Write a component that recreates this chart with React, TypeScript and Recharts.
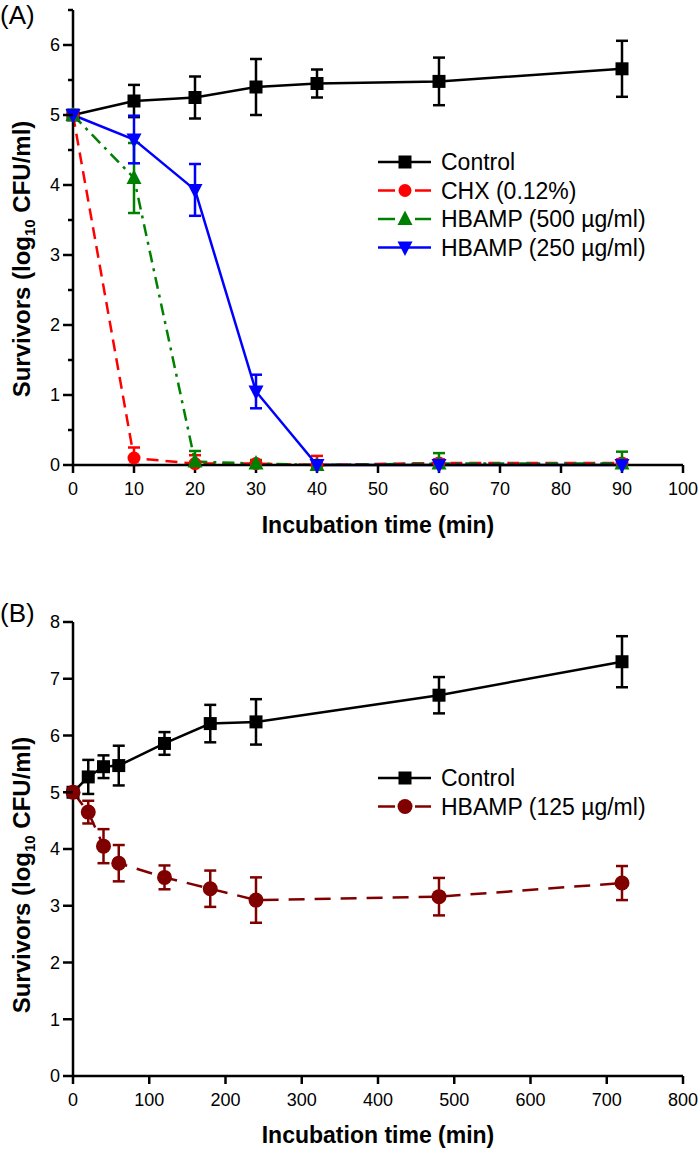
import React from "react";
import { LineChart, Line, XAxis, YAxis, ErrorBar, Legend } from "recharts";

const FONT = '"Liberation Sans", Arial, Helvetica, sans-serif';

// panel A: short time course (min)
const timesA = [0, 10, 20, 30, 40, 60, 90];
const controlA = [5.0, 5.2, 5.25, 5.4, 5.45, 5.48, 5.66];
const controlAErr = [0, 0.23, 0.3, 0.4, 0.2, 0.34, 0.4];
const chxA = [5.0, 0.1, 0.02, 0.02, 0.0, 0.03, 0.03];
const chxAErr = [0, 0.15, 0.12, 0.05, 0.13, 0.05, 0.05];
const hb500A = [5.0, 4.1, 0.05, 0.02, 0.0, 0.02, 0.02];
const hb500AErr = [0, 0.5, 0.15, 0.05, 0, 0.15, 0.17];
const hb250A = [5.0, 4.65, 3.93, 1.05, 0.0, 0.0, 0.0];
const hb250AErr = [0, 0.34, 0.37, 0.24, 0, 0, 0];
const xTicksA = [0, 10, 20, 30, 40, 50, 60, 70, 80, 90, 100];
const yTicksA = [0, 0.5, 1, 1.5, 2, 2.5, 3, 3.5, 4, 4.5, 5, 5.5, 6, 6.5];

// panel B: long time course (min)
const timesB = [0, 20, 40, 60, 120, 180, 240, 480, 720];
const controlB = [5.0, 5.27, 5.45, 5.47, 5.86, 6.21, 6.24, 6.71, 7.3];
const controlBErr = [0, 0.3, 0.2, 0.35, 0.2, 0.33, 0.4, 0.32, 0.45];
const hb125B = [5.0, 4.65, 4.05, 3.75, 3.5, 3.3, 3.1, 3.16, 3.4];
const hb125BErr = [0, 0.2, 0.3, 0.32, 0.21, 0.32, 0.4, 0.33, 0.3];
const xTicksB = [0, 100, 200, 300, 400, 500, 600, 700, 800];
const yTicksB = [0, 1, 2, 3, 4, 5, 6, 7, 8];

const seriesA = [
  { key: "control", name: "Control", color: "#000000", shape: "square", dash: undefined },
  { key: "chx", name: "CHX (0.12%)", color: "#ff0000", shape: "circle", dash: "12 7" },
  { key: "hb500", name: "HBAMP (500 µg/ml)", color: "#008000", shape: "up", dash: "12 6 3 6" },
  { key: "hb250", name: "HBAMP (250 µg/ml)", color: "#0000ff", shape: "down", dash: undefined },
];
const seriesB = [
  { key: "control", name: "Control", color: "#000000", shape: "square", dash: undefined },
  { key: "hb125", name: "HBAMP (125 µg/ml)", color: "#800000", shape: "bigcircle", dash: "16 10" },
];

const AXIS_X = 73; // left edge of both plots

// error bars never go below zero on the plot
const errPair = (v: number, e: number) => (e ? [Math.min(v, e), e] : 0);

const rowsA = timesA.map((t, i) => ({
  t,
  control: controlA[i],
  controlErr: errPair(controlA[i], controlAErr[i]),
  chx: chxA[i],
  chxErr: errPair(chxA[i], chxAErr[i]),
  hb500: hb500A[i],
  hb500Err: errPair(hb500A[i], hb500AErr[i]),
  hb250: hb250A[i],
  hb250Err: errPair(hb250A[i], hb250AErr[i]),
}));

const rowsB = timesB.map((t, i) => ({
  t,
  control: controlB[i],
  controlErr: errPair(controlB[i], controlBErr[i]),
  hb125: hb125B[i],
  hb125Err: errPair(hb125B[i], hb125BErr[i]),
}));

function marker(shape: string, cx: number, cy: number, color: string, key?: any) {
  if (shape === "square")
    return <rect key={key} x={cx - 6.5} y={cy - 6.5} width={13} height={13} fill={color} />;
  if (shape === "circle") return <circle key={key} cx={cx} cy={cy} r={6.5} fill={color} />;
  if (shape === "bigcircle") return <circle key={key} cx={cx} cy={cy} r={7.5} fill={color} />;
  if (shape === "up")
    return (
      <polygon key={key} points={`${cx},${cy - 8.5} ${cx - 7.5},${cy + 6} ${cx + 7.5},${cy + 6}`} fill={color} />
    );
  return (
    <polygon key={key} points={`${cx},${cy + 8.5} ${cx - 7.5},${cy - 6} ${cx + 7.5},${cy - 6}`} fill={color} />
  );
}

const dotFor = (shape: string, color: string) => (props: any) => {
  const { cx, cy, index } = props;
  if (cx == null || cy == null) return <g key={`d-${index}`} />;
  return marker(shape, cx, cy, color, `d-${index}`);
};

// y ticks: long ones with a label on whole numbers, short ones on halves
const YTick = (props: any) => {
  const { y, payload } = props;
  const major = Number.isInteger(payload.value);
  return (
    <g>
      <line x1={AXIS_X - (major ? 10 : 5)} x2={AXIS_X} y1={y} y2={y} stroke="#000" strokeWidth={2.5} />
      {major && (
        <text x={AXIS_X - 13} y={y} dy="0.36em" textAnchor="end" fontSize={18} fill="#000" fontFamily={FONT}>
          {payload.value}
        </text>
      )}
    </g>
  );
};

const XTitle = ({ baseY }: { baseY: number }) => (
  <text x={378} y={baseY} textAnchor="middle" fontSize={23} fontWeight="bold" fill="#000" fontFamily={FONT}>
    Incubation time (min)
  </text>
);

const YTitle = ({ midY, panel, panelY }: { midY: number; panel: string; panelY: number }) => (
  <g>
    <text
      x={30}
      y={midY}
      transform={`rotate(-90, 30, ${midY})`}
      textAnchor="middle"
      fontSize={24}
      fontWeight="bold"
      fill="#000"
      fontFamily={FONT}
    >
      Survivors (log
      <tspan fontSize={15} dy={5}>
        10
      </tspan>
      <tspan dy={-5}> CFU/ml)</tspan>
    </text>
    <text x={0} y={panelY} fontSize={26} fill="#000" fontFamily={FONT}>
      {panel}
    </text>
  </g>
);

const LegendBox = ({ items }: { items: typeof seriesA }) => (
  <svg width={320} height={items.length * 29 + 6} style={{ overflow: "visible" }}>
    {items.map((s, i) => {
      const cy = 14 + i * 28.5;
      return (
        <g key={s.key}>
          {s.dash ? (
            <>
              <line x1={0} x2={17} y1={cy} y2={cy} stroke={s.color} strokeWidth={2.5} />
              <line x1={37} x2={53} y1={cy} y2={cy} stroke={s.color} strokeWidth={2.5} />
            </>
          ) : (
            <line x1={0} x2={53} y1={cy} y2={cy} stroke={s.color} strokeWidth={2.5} />
          )}
          {marker(s.shape, 27, cy, s.color)}
          <text x={63} y={cy} dy="0.35em" fontSize={23} fill="#000" fontFamily={FONT}>
            {s.name}
          </text>
        </g>
      );
    })}
  </svg>
);

const axisStyle = { stroke: "#000", strokeWidth: 2.5 };

export default function App() {
  return (
    <div style={{ position: "absolute", left: 0, top: 0, width: 700, height: 1149, background: "#fff" }}>
      <div style={{ position: "absolute", left: 0, top: 0 }}>
        <LineChart
          width={700}
          height={560}
          data={rowsA}
          margin={{ top: 10, right: 17, bottom: 35, left: 0 }}
          style={{ fontFamily: FONT }}
        >
          <XAxis
            dataKey="t"
            type="number"
            domain={[0, 100]}
            ticks={xTicksA}
            height={60}
            tickSize={8}
            tickMargin={9}
            axisLine={axisStyle}
            tickLine={axisStyle}
            tick={{ fontSize: 18, fill: "#000", fontFamily: FONT }}
            label={<XTitle baseY={533} />}
          />
          <YAxis
            type="number"
            domain={[0, 6.5]}
            ticks={yTicksA}
            interval={0}
            width={AXIS_X}
            axisLine={axisStyle}
            tickLine={false}
            tick={<YTick />}
            label={<YTitle midY={259} panel="(A)" panelY={24} />}
          />
          {seriesA.map((s) => (
            <Line
              key={s.key}
              type="linear"
              dataKey={s.key}
              name={s.name}
              stroke={s.color}
              strokeWidth={2.5}
              strokeDasharray={s.dash}
              dot={dotFor(s.shape, s.color)}
              activeDot={false}
              isAnimationActive={false}
            >
              <ErrorBar dataKey={`${s.key}Err`} width={6} stroke={s.color} strokeWidth={2.5} direction="y" />
            </Line>
          ))}
          <Legend
            layout="vertical"
            align="center"
            verticalAlign="middle"
            wrapperStyle={{ left: 378, top: 148, width: 320 }}
            content={() => <LegendBox items={seriesA} />}
          />
        </LineChart>
      </div>
      <div style={{ position: "absolute", left: 0, top: 560 }}>
        <LineChart
          width={700}
          height={589}
          data={rowsB}
          margin={{ top: 62, right: 17, bottom: 23, left: 0 }}
          style={{ fontFamily: FONT }}
        >
          <XAxis
            dataKey="t"
            type="number"
            domain={[0, 800]}
            ticks={xTicksB}
            height={50}
            tickSize={8}
            tickMargin={9}
            axisLine={axisStyle}
            tickLine={axisStyle}
            tick={{ fontSize: 18, fill: "#000", fontFamily: FONT }}
            label={<XTitle baseY={583} />}
          />
          <YAxis
            type="number"
            domain={[0, 8]}
            ticks={yTicksB}
            interval={0}
            width={AXIS_X}
            axisLine={axisStyle}
            tickLine={false}
            tick={<YTick />}
            label={<YTitle midY={315} panel="(B)" panelY={62} />}
          />
          {seriesB.map((s) => (
            <Line
              key={s.key}
              type="linear"
              dataKey={s.key}
              name={s.name}
              stroke={s.color}
              strokeWidth={2.5}
              strokeDasharray={s.dash}
              dot={dotFor(s.shape, s.color)}
              activeDot={false}
              isAnimationActive={false}
            >
              <ErrorBar dataKey={`${s.key}Err`} width={6} stroke={s.color} strokeWidth={2.5} direction="y" />
            </Line>
          ))}
          <Legend
            layout="vertical"
            align="center"
            verticalAlign="middle"
            wrapperStyle={{ left: 378, top: 204, width: 320 }}
            content={() => <LegendBox items={seriesB} />}
          />
        </LineChart>
      </div>
    </div>
  );
}
